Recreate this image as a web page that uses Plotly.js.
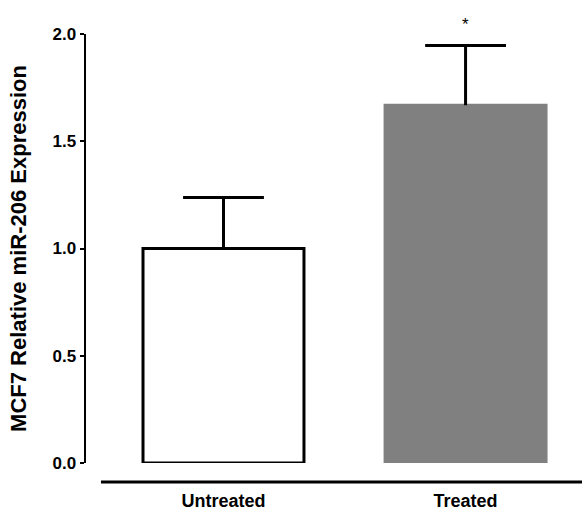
<!DOCTYPE html>
<html>
<head>
<meta charset="utf-8">
<script src="https://cdn.plot.ly/plotly-3.0.1.min.js"></script>
<style>html,body{margin:0;padding:0;background:#fff;}#chart{width:582px;height:512px;}</style>
</head>
<body>
<div id="chart"></div>
<script>
// ---- data ----
const categories = ["Untreated", "Treated"];
const positions = [0, 1];
const means = [1.0, 1.668];
const errors = [0.238, 0.278];
const significance = ["", "*"];
const yTickValues = [0, 0.5, 1.0, 1.5, 2.0];
const yTitle = "MCF7 Relative miR-206 Expression";

// ---- styles ----
const FONT = "Liberation Sans, Arial, Helvetica, sans-serif";
const barFill = ["#ffffff", "#808080"];
const barLine = ["#000000", "#808080"];
const capHalf = 0.167;

// error bars (upper only) built from means & errors
const ex = [], ey = [];
positions.forEach((p, i) => {
  const top = means[i] + errors[i];
  ex.push(p, p, null, p - capHalf, p + capHalf, null);
  ey.push(means[i], top, null, top, top, null);
});

const traces = [
  {
    type: "bar",
    x: positions,
    y: means,
    width: 0.665,
    marker: { color: barFill, line: { color: barLine, width: 3 } },
    cliponaxis: false,
    hoverinfo: "skip"
  },
  {
    type: "scatter",
    mode: "lines",
    x: ex,
    y: ey,
    line: { color: "#000000", width: 3 },
    cliponaxis: false,
    hoverinfo: "skip"
  }
];

const annotations = positions.map((p, i) => ({
  x: p,
  y: means[i] + errors[i],
  xref: "x",
  yref: "y",
  text: significance[i],
  showarrow: false,
  yanchor: "bottom",
  yshift: 10,
  font: { family: FONT, size: 17, color: "#000" }
})).filter(a => a.text);

const layout = {
  width: 582,
  height: 512,
  margin: { l: 86, r: 0, t: 34, b: 49 },
  paper_bgcolor: "#ffffff",
  plot_bgcolor: "#ffffff",
  showlegend: false,
  font: { family: FONT, color: "#000" },
  xaxis: {
    range: [-0.568, 1.481],
    tickvals: positions,
    ticktext: categories,
    showline: false,
    showgrid: false,
    zeroline: false,
    ticks: "outside",
    ticklen: 21,
    tickcolor: "rgba(0,0,0,0)",
    tickfont: { family: FONT, size: 18, weight: "bold", color: "#000" },
    fixedrange: true
  },
  yaxis: {
    range: [0, 2.0],
    tickvals: yTickValues,
    tickformat: ".1f",
    showline: true,
    linewidth: 2.5,
    linecolor: "#000",
    showgrid: false,
    zeroline: false,
    ticks: "outside",
    ticklen: 4,
    tickwidth: 2,
    tickcolor: "#000",
    tickfont: { family: FONT, size: 17, weight: "bold", color: "#000" },
    title: {
      text: yTitle,
      font: { family: FONT, size: 22, weight: "bold", color: "#000" },
      standoff: 20
    },
    automargin: false,
    fixedrange: true
  },
  shapes: [
    {
      type: "line",
      xref: "paper",
      yref: "paper",
      x0: 0.0302,
      x1: 1,
      y0: -0.0443,
      y1: -0.0443,
      line: { color: "#000", width: 3 }
    }
  ],
  annotations: annotations
};

Plotly.newPlot("chart", traces, layout, { displayModeBar: false, staticPlot: true });
</script>
</body>
</html>
